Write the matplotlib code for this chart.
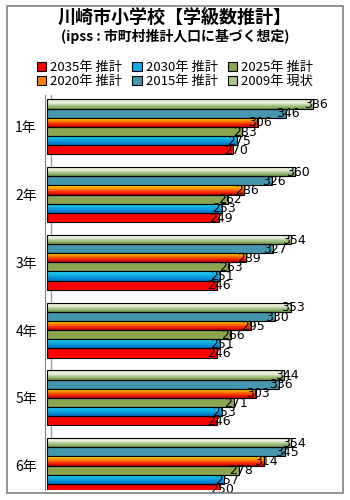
import numpy as np
import matplotlib
matplotlib.use('Agg')
import matplotlib.pyplot as plt
from matplotlib.colors import LinearSegmentedColormap
from matplotlib.patches import Patch, Rectangle

plt.rcParams['font.family'] = ['Noto Sans CJK JP', 'DejaVu Sans']

grades = ['1年', '2年', '3年', '4年', '5年', '6年']
# order: top bar in each group first
series = ['2009年 現状', '2015年 推計', '2020年 推計', '2025年 推計', '2030年 推計', '2035年 推計']
v2009 = [386, 360, 354, 353, 344, 354]
v2015 = [346, 326, 327, 330, 336, 345]
v2020 = [306, 286, 289, 295, 303, 314]
v2025 = [283, 262, 263, 266, 271, 278]
v2030 = [275, 253, 251, 251, 253, 257]
v2035 = [270, 249, 246, 246, 246, 250]
values = [v2009, v2015, v2020, v2025, v2030, v2035]

# colour: plain string or list of gradient stops (top -> bottom)
styles = [
    ['#c8dcae', '#f2f7ea', '#a9c58a', '#6f9a4c'],
    '#4497ae',
    ['#ffe000', '#ff9a00', '#ff3000', '#c00000'],
    '#8ba650',
    ['#20d0f0', '#10a8e0', '#0070c8'],
    '#ff0000',
]
legend_colors = ['#a9c58a', '#4497ae', '#ff8000', '#8ba650', '#10a8e0', '#ff0000']

fig = plt.figure(figsize=(3.5, 5), dpi=100)
fig.patches.append(Rectangle((7 / 350, 7 / 500), 336 / 350, 487 / 500, transform=fig.transFigure,
                             fill=False, edgecolor='#808080', linewidth=1.2))

ax = fig.add_axes([0.129, 0.02, 0.843, 0.79])
h = 0.135
y = np.arange(len(grades))
for i, (name, vals, st) in enumerate(zip(series, values, styles)):
    yy = y - 0.405 + h * (i + 0.5)
    if isinstance(st, str):
        ax.barh(yy, vals, height=h, color=st, edgecolor='black', linewidth=0.8, zorder=3)
    else:
        bars = ax.barh(yy, vals, height=h, color='none', edgecolor='black', linewidth=0.8, zorder=4)
        cmap = LinearSegmentedColormap.from_list(name, st)
        grad = np.linspace(0, 1, 64).reshape(-1, 1)
        for b, v, yc in zip(bars, vals, yy):
            im = ax.imshow(grad, cmap=cmap, aspect='auto', zorder=3,
                           extent=[0, v, yc + h / 2, yc - h / 2])
            im.set_clip_path(b)
    for v, yc in zip(vals, yy):
        ax.text(v - 14, yc + 0.01, str(v), fontsize=9, va='center', ha='left', zorder=5,
                family=['DejaVu Sans'])

ax.set_xlim(-3, 425)
ax.set_ylim(5.36, -0.47)
ax.set_yticks(y)
ax.set_yticklabels(grades, fontsize=10)
ax.tick_params(axis='y', length=0, pad=6)
ax.set_xticks([])
for s in ['top', 'right', 'bottom']:
    ax.spines[s].set_visible(False)
ax.spines['left'].set_color('#808080')
ax.axvline(5, color='#a0a0a0', linewidth=1, zorder=1)

fig.text(0.5, 0.965, '川崎市小学校【学級数推計】', ha='center', va='center',
         fontsize=13, fontweight='bold')
fig.text(0.5, 0.928, '(ipss : 市町村推計人口に基づく想定)', ha='center', va='center',
         fontsize=10, fontweight='bold')

# legend fills column by column: rows read 2035,2030,2025 / 2020,2015,2009
order = [5, 2, 4, 1, 3, 0]
handles = [Patch(facecolor=legend_colors[k], edgecolor='black', linewidth=0.8) for k in order]
labels = [series[k] for k in order]
fig.legend(handles, labels, ncol=3, loc='center', bbox_to_anchor=(0.5, 0.851),
           frameon=False, fontsize=9.5, handlelength=0.7, handleheight=0.7,
           handletextpad=0.3, columnspacing=0.8, labelspacing=0.1)

fig.savefig('out.png', dpi=100)
